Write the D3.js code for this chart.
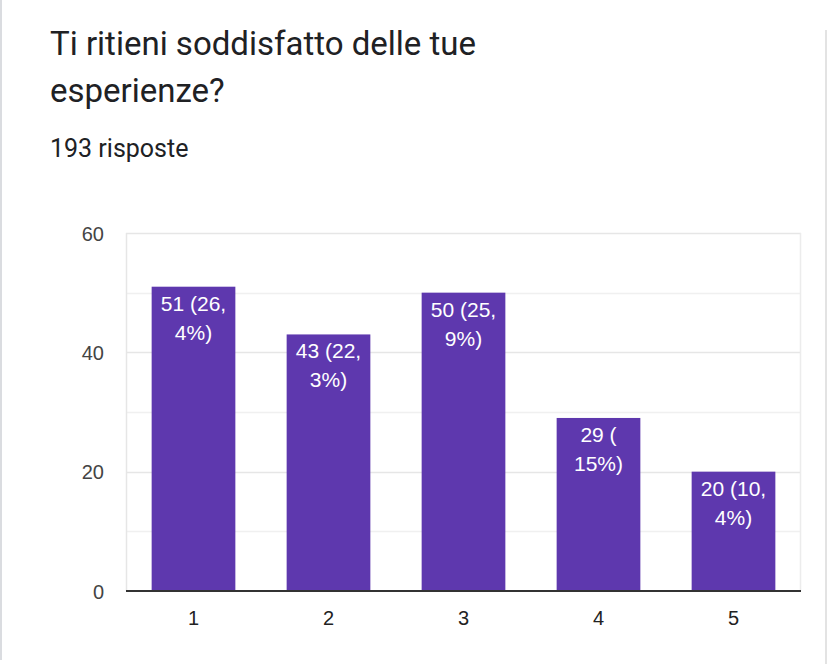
<!DOCTYPE html>
<html>
<head>
<meta charset="utf-8">
<script src="https://cdn.jsdelivr.net/npm/d3@7"></script>
<style>
  html, body { margin: 0; padding: 0; background: #fff; }
  svg { display: block; }
</style>
</head>
<body>
<script>
const title = ["Ti ritieni soddisfatto delle tue", "esperienze?"];
const subtitle = "193 risposte";
const categories = ["1", "2", "3", "4", "5"];
const values = [51, 43, 50, 29, 20];
const barLabels = [["51 (26,", "4%)"], ["43 (22,", "3%)"], ["50 (25,", "9%)"], ["29 (", "15%)"], ["20 (10,", "4%)"]];
const yTicks = [0, 20, 40, 60];
const yGrid = [10, 20, 30, 40, 50, 60];

(function () {
const W = 827, H = 664;
const svg = d3.select("body").append("svg").attr("width", W).attr("height", H);

// card borders
svg.append("rect").attr("x", 0).attr("y", 0).attr("width", 2).attr("height", 660).attr("fill", "#dadce0");
svg.append("rect").attr("x", 825).attr("y", 30).attr("width", 2).attr("height", H - 30).attr("fill", "#e3e3e3");

// title
const t = svg.append("text")
  .attr("font-family", "Roboto, sans-serif").attr("font-size", 33).attr("fill", "#202124");
title.forEach((line, i) => t.append("tspan").attr("x", 50).attr("y", 55 + i * 47).text(line));

svg.append("text").attr("x", 50).attr("y", 157).text(subtitle)
  .attr("font-family", "Roboto, sans-serif").attr("font-size", 25).attr("fill", "#202124");

const pLeft = 126, pRight = 801, pTop = 233, pBottom = 591;
const x = d3.scaleBand().domain(categories).range([pLeft, pRight]).paddingInner(0.38).paddingOuter(0.19);
const y = d3.scaleLinear().domain([0, 60]).range([pBottom, pTop]);

const font = "'Liberation Sans', Arial, sans-serif";

// gridlines
svg.append("g").selectAll("line").data(yGrid).join("line")
  .attr("x1", pLeft).attr("x2", pRight)
  .attr("y1", d => Math.round(y(d)) + 0.5).attr("y2", d => Math.round(y(d)) + 0.5)
  .attr("stroke", d => d % 20 === 0 ? "#e6e6e6" : "#f0f0f0").attr("stroke-width", 1.5);
// side frame lines
svg.append("line").attr("x1", pLeft + 0.5).attr("x2", pLeft + 0.5).attr("y1", pTop).attr("y2", pBottom)
  .attr("stroke", "#e6e6e6").attr("stroke-width", 1.5);
svg.append("line").attr("x1", pRight - 0.5).attr("x2", pRight - 0.5).attr("y1", pTop).attr("y2", pBottom)
  .attr("stroke", "#ececec").attr("stroke-width", 1.5);

// bars
svg.append("g").selectAll("rect").data(values).join("rect")
  .attr("x", (d, i) => x(categories[i]))
  .attr("width", x.bandwidth())
  .attr("y", d => y(d))
  .attr("height", d => y(0) - y(d))
  .attr("fill", "#5e38ae");

// bar labels
const lg = svg.append("g").attr("font-family", font).attr("font-size", 21).attr("fill", "#fff").attr("text-anchor", "middle");
barLabels.forEach((lines, i) => {
  const cx = x(categories[i]) + x.bandwidth() / 2;
  const txt = lg.append("text");
  lines.forEach((ln, j) => txt.append("tspan").attr("x", cx).attr("y", y(values[i]) + 24 + j * 29).text(ln));
});

// baseline
svg.append("line").attr("x1", pLeft).attr("x2", pRight).attr("y1", pBottom).attr("y2", pBottom)
  .attr("stroke", "#333").attr("stroke-width", 2);

// y axis labels
const yAxis = d3.axisLeft(y).tickValues(yTicks).tickSize(0).tickPadding(0);
const ya = svg.append("g").attr("transform", `translate(${pLeft - 22},0)`).call(yAxis);
ya.select(".domain").remove();
ya.selectAll("text").attr("font-family", font).attr("font-size", 20).attr("fill", "#444").attr("dy", "0.35em");

// x axis labels
const xAxis = d3.axisBottom(x).tickSize(0).tickPadding(0);
const xa = svg.append("g").attr("transform", `translate(0,${pBottom})`).call(xAxis);
xa.select(".domain").remove();
xa.selectAll("text").attr("font-family", font).attr("font-size", 20).attr("fill", "#222").attr("dy", null).attr("y", 34);
})();
</script>
</body>
</html>
